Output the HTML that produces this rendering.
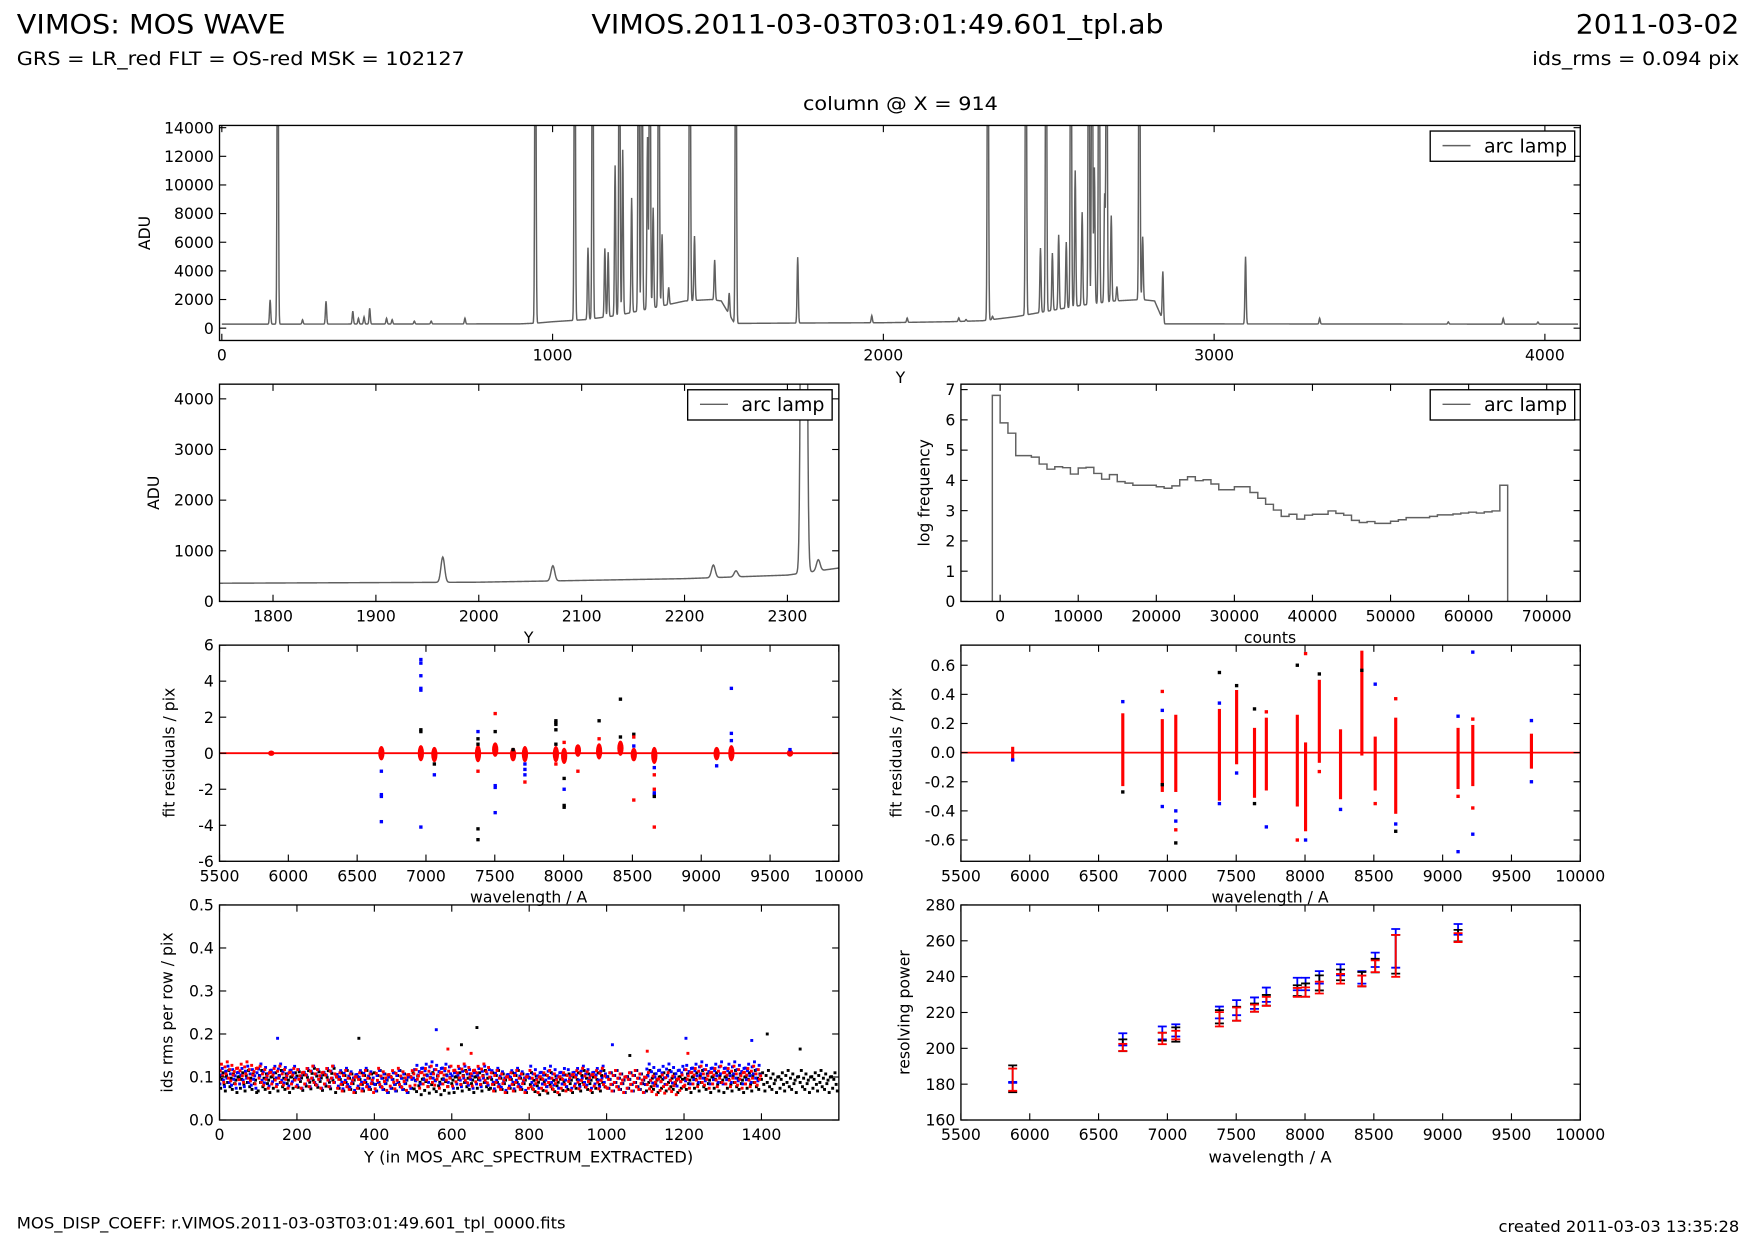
<!DOCTYPE html>
<html><head><meta charset="utf-8"><title>VIMOS MOS WAVE</title>
<style>
html,body{margin:0;padding:0;background:#fff;}
svg{display:block;font-family:"DejaVu Sans","Liberation Sans",sans-serif;}
</style></head>
<body>
<svg id="fig" xmlns="http://www.w3.org/2000/svg" width="1755" height="1245" viewBox="0 0 1567 1111.6" preserveAspectRatio="none">
<rect x="0" y="0" width="1567" height="1111.6" fill="#fff"/>
<text x="15" y="30" font-size="24" textLength="240" lengthAdjust="spacingAndGlyphs">VIMOS: MOS WAVE</text>
<text x="528" y="30" font-size="24" textLength="511" lengthAdjust="spacingAndGlyphs">VIMOS.2011-03-03T03:01:49.601_tpl.ab</text>
<text x="1553" y="30" font-size="24" text-anchor="end" textLength="146" lengthAdjust="spacingAndGlyphs">2011-03-02</text>
<text x="15" y="58" font-size="17" textLength="400" lengthAdjust="spacingAndGlyphs">GRS = LR_red FLT = OS-red MSK = 102127</text>
<text x="1553" y="58" font-size="17" text-anchor="end" textLength="185" lengthAdjust="spacingAndGlyphs">ids_rms = 0.094 pix</text>
<text x="804" y="98" font-size="17" text-anchor="middle" textLength="174" lengthAdjust="spacingAndGlyphs">column @ X = 914</text>
<text x="15" y="1097" font-size="14" textLength="490" lengthAdjust="spacingAndGlyphs">MOS_DISP_COEFF: r.VIMOS.2011-03-03T03:01:49.601_tpl_0000.fits</text>
<text x="1553" y="1100" font-size="14" text-anchor="end" textLength="215" lengthAdjust="spacingAndGlyphs">created 2011-03-03 13:35:28</text>
</svg>
<script>
// ---------- DATA ----------
const baseX = [0,900,950,1000,1100,1200,1300,1400,1480,1510,1550,1750,2000,2200,2300,2400,2500,2600,2700,2780,2820,2850,4100];
const baseY = [280,300,350,450,600,900,1400,1900,2000,1900,330,360,380,450,520,800,1200,1600,1900,2000,1900,300,280];
const peakPos = [146,169,244,315,396,413,430,447,498,515,582,633,735,948,1067,1107,1121,1158,1168,1189,1202,1212,1239,1260,1270,1287,1294,1304,1321,1331,1351,1415,1429,1490,1534,1554,1741,1965,2072,2228,2250,2316,2330,2431,2475,2492,2511,2530,2553,2567,2580,2601,2621,2631,2638,2652,2669,2675,2689,2706,2774,2784,2845,3095,3319,3708,3874,3979];
const peakAmp = [1700,30000,300,1600,900,400,500,1100,400,300,200,200,400,30000,30000,5000,30000,4800,4500,10500,30000,11500,8000,30000,30000,12000,30000,7000,30000,5000,1200,30000,4500,2800,1500,30000,4600,500,300,250,120,30000,220,30000,4500,30000,4000,5200,4600,30000,9500,6500,30000,30000,9500,30000,7500,30000,6000,1000,30000,4400,3400,4700,400,150,400,150];
const histStart = -1000, histBin = 1000;
const histVals = [6.81,5.9,5.56,4.82,4.82,4.77,4.54,4.37,4.45,4.42,4.21,4.41,4.43,4.23,4.04,4.19,3.96,3.91,3.84,3.84,3.84,3.79,3.74,3.82,4.02,4.12,3.99,4.02,3.88,3.69,3.69,3.79,3.79,3.6,3.41,3.21,3.02,2.81,2.88,2.72,2.85,2.88,2.88,2.99,2.91,2.85,2.68,2.61,2.64,2.58,2.58,2.65,2.70,2.77,2.77,2.77,2.81,2.86,2.86,2.89,2.92,2.95,2.92,2.96,2.99,3.84];
const lineWl = [5876,6676,6963,7061,7378,7503,7633,7719,7944,8004,8104,8258,8413,8510,8659,9112,9219,9645];
const leftRedLo = [-0.15,-0.4,-0.45,-0.5,-0.5,-0.2,-0.45,-0.5,-0.5,-0.6,-0.2,-0.35,-0.15,-0.45,-0.6,-0.4,-0.45,-0.2];
const leftRedHi = [0.15,0.4,0.45,0.35,0.45,0.6,0.3,0.4,0.4,0.3,0.5,0.55,0.7,0.3,0.35,0.35,0.45,0.2];
const leftOutWl = [6676,6676,6676,6676,6963,6963,6963,6963,6963,6963,7061,7378,7503,7503,7503,7719,7719,7719,8004,8510,8659,8659,8659,9112,9219,9219,9219,9645,
                   6963,6963,7061,7378,7378,7378,7378,7503,7633,7944,7944,7944,7944,7944,8004,8004,8004,8258,8413,8413,8510,8659,
                   6963,7378,7503,7719,7944,8004,8104,8258,8510,8510,8659,8659,8659];
const leftOutRes = [-1,-2.3,-2.4,-3.8,5.2,5.0,4.3,3.6,3.5,-4.1,-1.2,1.2,-1.8,-1.9,-3.3,-0.6,-0.9,-1.2,-2.0,0.4,-0.8,-2.2,-2.3,-0.7,3.6,1.1,0.7,0.2,
                    1.2,1.3,-0.6,0.8,0.5,-4.2,-4.8,1.2,0.2,1.8,1.7,1.6,1.3,0.5,-1.4,-2.9,-3.0,1.8,3.0,0.9,1.05,-2.4,
                    0.3,-1.0,2.2,-1.6,-0.6,0.6,-1.0,0.8,0.9,-2.6,-1.2,-2.0,-4.1];
const leftOutColor = ['b','b','b','b','b','b','b','b','b','b','b','b','b','b','b','b','b','b','b','b','b','b','b','b','b','b','b','b',
                      'k','k','k','k','k','k','k','k','k','k','k','k','k','k','k','k','k','k','k','k','k','k',
                      'r','r','r','r','r','r','r','r','r','r','r','r','r'];
const rightRedLo = [-0.04,-0.23,-0.27,-0.27,-0.33,-0.08,-0.31,-0.26,-0.37,-0.54,-0.07,-0.32,-0.02,-0.26,-0.42,-0.25,-0.23,-0.11];
const rightRedHi = [0.04,0.27,0.23,0.26,0.3,0.43,0.17,0.24,0.26,0.07,0.5,0.16,0.7,0.11,0.24,0.17,0.19,0.13];
const rightOutWl = [5876,6676,6963,6963,7061,7061,7378,7378,7503,7719,8004,8258,8510,8659,9112,9112,9219,9219,9645,9645,
                    6676,6963,7061,7378,7503,7633,7633,7944,8104,8413,8659,
                    6963,7061,7719,7944,8004,8104,8510,8659,9112,9219,9219];
const rightOutRes = [-0.05,0.35,0.29,-0.37,-0.4,-0.47,0.34,-0.35,-0.14,-0.51,-0.6,-0.39,0.47,-0.49,0.25,-0.68,-0.56,0.69,0.22,-0.2,
                     -0.27,-0.22,-0.62,0.55,0.46,0.3,-0.35,0.6,0.54,0.565,-0.54,
                     0.42,-0.53,0.28,-0.6,0.68,-0.13,-0.35,0.37,-0.3,0.23,-0.38];
const rightOutColor = ['b','b','b','b','b','b','b','b','b','b','b','b','b','b','b','b','b','b','b','b',
                       'k','k','k','k','k','k','k','k','k','k','k',
                       'r','r','r','r','r','r','r','r','r','r','r'];
const rmsBlockStep = 100;
const rmsBlack = [0.09,0.09,0.095,0.09,0.09,0.085,0.09,0.09,0.085,0.09,0.09,0.09,0.09,0.09,0.09,0.09];
const rmsBlue = [0.1,0.105,0.1,0.095,0.09,0.11,0.1,0.095,0.1,0.1,0.09,0.105,0.11,0.11];
const rmsRed = [0.11,0.1,0.1,0.09,0.095,0.1,0.105,0.09,0.09,0.095,0.09,0.085,0.1,0.1];
const rmsOutRow = [150,560,1015,1205,1375,360,665,625,1415,1500,1060,590,650,1105,1210];
const rmsOutVal = [0.19,0.21,0.175,0.19,0.185,0.19,0.215,0.175,0.2,0.165,0.15,0.165,0.155,0.16,0.155];
const rmsOutColor = ['b','b','b','b','b','k','k','k','k','k','k','r','r','r','r'];
const resWl = [5876,6676,6963,7061,7378,7503,7633,7719,7944,8004,8104,8258,8413,8510,8659,9112];
const resBlack = [183,201.7,206.5,207.7,217.6,219.3,222.7,226.8,232.2,232.5,236.5,241,238.6,246.2,252.5,262.9];
const resBlackErr = [7.5,3.3,2.2,4,3.7,3.9,2.3,3,3,3.7,4.2,3,4,3.8,10.8,3.2];
const resRed = [182.5,200.5,205.5,207.4,216.2,219.1,222.4,226.2,231.2,231.4,233.9,238.8,237.6,245.8,251.6,261.8];
const resRedErr = [6.2,2,3.2,2.4,4,3.7,2,2.5,2.5,2.6,3.3,2.7,3,3.3,11.7,2.5];
const resBlue = [181,205,208.6,210,220,222.7,225.2,229.9,235.9,235.9,239.6,243.8,239.6,249.4,255.8,266.4];
const resBlueErr = [0.3,3.4,3.6,3.4,3.3,4.2,3.2,4,3.5,3.5,3.5,3.1,3.5,4,10.8,3];
const rmsSpread = [0.012,-0.018,0.005,0.022,-0.008,-0.025,0.015,-0.003,0.028,-0.014,0.008,-0.021,0.019,-0.006,0.003,-0.029,0.011];

// ---------- HELPERS ----------
const NS = 'http://www.w3.org/2000/svg';
const svg = document.getElementById('fig');
function mk(tag, attrs, parent){ const e=document.createElementNS(NS,tag); for(const k in attrs) e.setAttribute(k,attrs[k]); (parent||svg).appendChild(e); return e; }
const COL = {b:'#0000ff', k:'#000000', r:'#ff0000'};

function axes(name, x0,y0,x1,y1, xd, yd, xt, yt, xfmt, yfmt){
  const g = mk('g',{});
  
  
  const sx = v => x0 + (v-xd[0])/(xd[1]-xd[0])*(x1-x0);
  const sy = v => y1 - (v-yd[0])/(yd[1]-yd[0])*(y1-y0);
  const cid = name+'-clip';
  const cp = mk('clipPath',{id:cid}, g);
  mk('rect',{x:x0,y:y0,width:x1-x0,height:y1-y0}, cp);
  const plot = mk('g',{'clip-path':'url(#'+cid+')'}, g);
  
  
  const frame = mk('g',{}, g);
  
  
  xt.forEach(v=>{
    const X=sx(v);
    mk('line',{x1:X,y1:y1,x2:X,y2:y1-6,stroke:'#000','stroke-width':1}, frame);
    mk('line',{x1:X,y1:y0,x2:X,y2:y0+6,stroke:'#000','stroke-width':1}, frame);
    const t = mk('text',{x:X,y:y1+18,'font-size':14,'text-anchor':'middle'}, frame);
    
    
    t.textContent = xfmt ? xfmt(v) : String(v);
  });
  yt.forEach(v=>{
    const Y=sy(v);
    mk('line',{x1:x0,y1:Y,x2:x0+6,y2:Y,stroke:'#000','stroke-width':1}, frame);
    mk('line',{x1:x1,y1:Y,x2:x1-6,y2:Y,stroke:'#000','stroke-width':1}, frame);
    const t = mk('text',{x:x0-5,y:Y+5,'font-size':14,'text-anchor':'end'}, frame);
    
    
    t.textContent = yfmt ? yfmt(v) : String(v);
  });
  mk('rect',{x:x0,y:y0,width:x1-x0,height:y1-y0,fill:'none',stroke:'#000','stroke-width':1.2}, frame);
  return {sx,sy,plot,g,x0,y0,x1,y1};
}
function xlabel(txt, x, y, name, len){
  const t = mk('text',{x:x,y:y,'font-size':14,'text-anchor':'middle'});
  if(len){ t.setAttribute('textLength',len); t.setAttribute('lengthAdjust','spacingAndGlyphs'); }
  
  
  t.textContent = txt;
}
function ylabel(txt, x, y, name){
  const t = mk('text',{x:x,y:y,'font-size':14,'text-anchor':'middle',transform:'rotate(-90 '+x+' '+y+')'});
  
  
  t.textContent = txt;
}
function legend(x0,y0,name){
  const g = mk('g',{});
  
  
  mk('rect',{x:x0,y:y0,width:129,height:27,fill:'#fff',stroke:'#000','stroke-width':1.2}, g);
  mk('line',{x1:x0+11,y1:y0+13,x2:x0+36,y2:y0+13,stroke:'#606060','stroke-width':1.3}, g);
  const t = mk('text',{x:x0+48,y:y0+19,'font-size':17}, g);
  
  
  t.textContent = 'arc lamp';
}
function interp(x){
  for(let i=0;i<baseX.length-1;i++){
    if(x>=baseX[i] && x<=baseX[i+1]) return baseY[i]+(baseY[i+1]-baseY[i])*(x-baseX[i])/(baseX[i+1]-baseX[i]);
  }
  return baseY[baseY.length-1];
}
function spectrum(Y){
  let v = interp(Y);
  for(let i=0;i<peakPos.length;i++){ const d=(Y-peakPos[i])/1.8; if(Math.abs(d)<6) v += peakAmp[i]*Math.exp(-0.5*d*d); }
  return v;
}
function pt(plot, X, Y, c, s){
  const r = mk('rect',{x:X-s/2,y:Y-s/2,width:s,height:s,fill:c}, plot);
  
  
}

// ---------- TOP: spectrum ----------
const A1 = axes('spectrum-full-axes',196,112,1411,304,[-7,4107],[-860,14156],[0,1000,2000,3000,4000],[0,2000,4000,6000,8000,10000,12000,14000]);
let d='';
for(let Y=0;Y<=4100;Y+=1){ d += (Y? 'L':'M') + A1.sx(Y).toFixed(2)+','+A1.sy(spectrum(Y)).toFixed(2); }
const p1 = mk('path',{d:d,fill:'none',stroke:'#606060','stroke-width':1.3}, A1.plot);


legend(1277,117,'spectrum-legend');
ylabel('ADU',134,208,'spectrum-y-axis-title');
xlabel('Y',804,342,'spectrum-x-axis-title');

// ---------- MIDDLE LEFT: zoom ----------
const A2 = axes('spectrum-zoom-axes',196,343,749,537,[1748,2350],[0,4290],[1800,1900,2000,2100,2200,2300],[0,1000,2000,3000,4000]);
d='';
for(let Y=1748;Y<=2350;Y+=0.5){ d += (Y>1748? 'L':'M') + A2.sx(Y).toFixed(2)+','+A2.sy(spectrum(Y)).toFixed(2); }
const p2 = mk('path',{d:d,fill:'none',stroke:'#606060','stroke-width':1.3}, A2.plot);


legend(614,348,'zoom-legend');
ylabel('ADU',142,440,'zoom-y-axis-title');
xlabel('Y',472,574,'zoom-x-axis-title');

// ---------- MIDDLE RIGHT: histogram ----------
const A3 = axes('histogram-axes',858,343,1411,537,[-5020,74300],[0,7.18],[0,10000,20000,30000,40000,50000,60000,70000],[0,1,2,3,4,5,6,7]);
d='M'+A3.sx(histStart)+','+A3.sy(0);
histVals.forEach((v,i)=>{ const a=histStart+i*histBin; d+='L'+A3.sx(a).toFixed(2)+','+A3.sy(v).toFixed(2)+'L'+A3.sx(a+histBin).toFixed(2)+','+A3.sy(v).toFixed(2); });
d+='L'+A3.sx(histStart+histVals.length*histBin)+','+A3.sy(0);
const p3 = mk('path',{d:d,fill:'none',stroke:'#606060','stroke-width':1.3}, A3.plot);


legend(1277,348,'histogram-legend');
ylabel('log frequency',830,440,'histogram-y-axis-title');
xlabel('counts',1134,574,'histogram-x-axis-title');

// ---------- ROW 3 LEFT: residuals ----------
const A4 = axes('residuals-left-axes',196,576,749,769,[5500,10000],[-6,6],[5500,6000,6500,7000,7500,8000,8500,9000,9500,10000],[-6,-4,-2,0,2,4,6]);
const z4 = mk('line',{x1:196,x2:749,y1:A4.sy(0),y2:A4.sy(0),stroke:'#ff0000','stroke-width':1.6}, A4.plot);


lineWl.forEach((w,i)=>{
  const e = mk('ellipse',{cx:A4.sx(w),cy:A4.sy((leftRedLo[i]+leftRedHi[i])/2),rx:2.8,ry:(A4.sy(leftRedLo[i])-A4.sy(leftRedHi[i]))/2,fill:'#ff0000'}, A4.plot);
  
  
});
leftOutWl.forEach((w,i)=> pt(A4.plot, A4.sx(w), A4.sy(leftOutRes[i]), COL[leftOutColor[i]], 3));
ylabel('fit residuals / pix',156,672,'residuals-left-y-axis-title');
xlabel('wavelength / A',472,806,'residuals-left-x-axis-title');

// ---------- ROW 3 RIGHT: residuals ----------
const A5 = axes('residuals-right-axes',858,576,1411,769,[5500,10000],[-0.746,0.738],[5500,6000,6500,7000,7500,8000,8500,9000,9500,10000],[-0.6,-0.4,-0.2,0,0.2,0.4,0.6],null,v=>v.toFixed(1));
const z5 = mk('line',{x1:858,x2:1411,y1:A5.sy(0),y2:A5.sy(0),stroke:'#ff0000','stroke-width':1.6}, A5.plot);


lineWl.forEach((w,i)=>{
  const e = mk('rect',{x:A5.sx(w)-1.4,y:A5.sy(rightRedHi[i]),width:2.8,height:A5.sy(rightRedLo[i])-A5.sy(rightRedHi[i]),fill:'#ff0000'}, A5.plot);
  
  
});
rightOutWl.forEach((w,i)=> pt(A5.plot, A5.sx(w), A5.sy(rightOutRes[i]), COL[rightOutColor[i]], 3));
ylabel('fit residuals / pix',805,672,'residuals-right-y-axis-title');
xlabel('wavelength / A',1134,806,'residuals-right-x-axis-title');

// ---------- ROW 4 LEFT: ids rms ----------
const A6 = axes('ids-rms-axes',196,808,749,1000,[0,1600],[0,0.5],[0,200,400,600,800,1000,1200,1400],[0,0.1,0.2,0.3,0.4,0.5],null,v=>v.toFixed(1));
function rmsSeries(arr, c, off){
  arr.forEach((m,b)=>{
    for(let k=0;k<33;k++){
      const row = b*rmsBlockStep + k*3 + off;
      const v = m + rmsSpread[(k+b*5+off)%rmsSpread.length]*0.9;
      pt(A6.plot, A6.sx(row), A6.sy(v), c, 2.6);
    }
  });
}
rmsSeries(rmsBlack,'#000000',0);
rmsSeries(rmsBlue,'#0000ff',1);
rmsSeries(rmsRed,'#ff0000',2);
rmsOutRow.forEach((r,i)=> pt(A6.plot, A6.sx(r), A6.sy(rmsOutVal[i]), COL[rmsOutColor[i]], 2.6));
ylabel('ids rms per row / pix',154,904,'ids-rms-y-axis-title');
xlabel('Y (in MOS_ARC_SPECTRUM_EXTRACTED)',472,1038,'ids-rms-x-axis-title',294);

// ---------- ROW 4 RIGHT: resolving power ----------
const A7 = axes('resolving-power-axes',858,808,1411,1000,[5500,10000],[160,280],[5500,6000,6500,7000,7500,8000,8500,9000,9500,10000],[160,180,200,220,240,260,280]);
function errSeries(vals, errs, c, nm){
  resWl.forEach((w,i)=>{
    const X=A7.sx(w), lo=A7.sy(vals[i]-errs[i]), hi=A7.sy(vals[i]+errs[i]);
    const g = mk('g',{stroke:c,'stroke-width':1.6}, A7.plot);
    
    
    mk('line',{x1:X,x2:X,y1:lo,y2:hi}, g);
    mk('line',{x1:X-4,x2:X+4,y1:lo,y2:lo}, g);
    mk('line',{x1:X-4,x2:X+4,y1:hi,y2:hi}, g);
  });
}
errSeries(resBlue,resBlueErr,'#0000ff','errorbar-blue');
errSeries(resBlack,resBlackErr,'#000000','errorbar-black');
errSeries(resRed,resRedErr,'#ff0000','errorbar-red');
ylabel('resolving power',812,904,'resolving-power-y-axis-title');
xlabel('wavelength / A',1134,1038,'resolving-power-x-axis-title',110);
</script>
</body></html>
